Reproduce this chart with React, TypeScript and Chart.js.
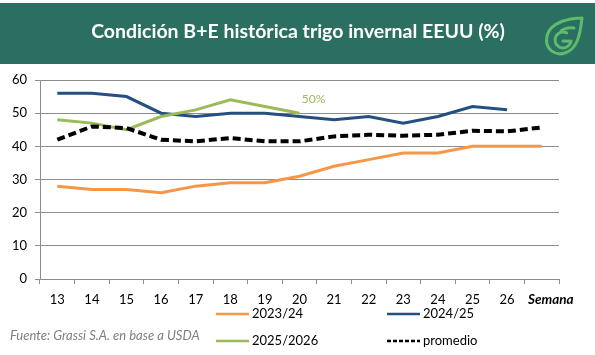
import React, { useEffect, useRef } from "react";
import { Chart, registerables } from "chart.js";

Chart.register(...registerables);

const weeks = ["13", "14", "15", "16", "17", "18", "19", "20", "21", "22", "23", "24", "25", "26", ""];
const s2023 = [28, 27, 27, 26, 28, 29, 29, 31, 34, 36, 38, 38, 40, 40, 40];
const s2024 = [56, 56, 55, 50, 49, 50, 50, 49, 48, 49, 47, 49, 52, 51, null];
const s2025 = [48, 47, 45, 49, 51, 54, 52, 50, null, null, null, null, null, null, null];
const promedio = [42, 46, 45.5, 42, 41.5, 42.5, 41.5, 41.5, 43, 43.5, 43.2, 43.5, 44.7, 44.5, 45.7];
const yTicks = [0, 10, 20, 30, 40, 50, 60];

const TITLE = "Condición B+E histórica trigo invernal EEUU (%)";
const SOURCE = "Fuente: Grassi S.A. en base a USDA";
const XTITLE = "Semana";
const LAST_LABEL = "50%";

const FONT = "Lato, 'Open Sans', sans-serif";

const decorPlugin = {
  id: "decor",
  beforeDraw(chart: any) {
    const ctx = chart.ctx;
    ctx.save();
    ctx.fillStyle = "#fff";
    ctx.fillRect(0, 0, chart.width, chart.height);
    // header band
    ctx.fillStyle = "#2B6E62";
    ctx.fillRect(0, 3, chart.width, 61);
    ctx.fillStyle = "#fff";
    ctx.font = `bold 19.5px ${FONT}`;
    ctx.textAlign = "center";
    ctx.textBaseline = "middle";
    ctx.fillText(TITLE, 298, 32);
    // logo
    ctx.strokeStyle = "#5DBB6B";
    ctx.lineWidth = 3;
    ctx.lineCap = "round";
    ctx.beginPath();
    ctx.moveTo(582, 18);
    ctx.bezierCurveTo(570, 18, 550, 22, 547, 36);
    ctx.bezierCurveTo(544, 50, 556, 56, 565, 53);
    ctx.bezierCurveTo(577, 49, 580, 36, 582, 18);
    ctx.stroke();
    ctx.beginPath();
    ctx.arc(563, 40, 8, -Math.PI * 0.35, Math.PI * 0.05, true);
    ctx.lineTo(563, 41);
    ctx.stroke();
    ctx.beginPath();
    ctx.moveTo(574, 28);
    ctx.quadraticCurveTo(566, 27, 561, 31);
    ctx.stroke();
    ctx.restore();
  },
  afterDraw(chart: any) {
    const ctx = chart.ctx;
    const xs = chart.scales.x;
    const ys = chart.scales.y;
    ctx.save();
    // "Semana"
    ctx.fillStyle = "#000";
    ctx.font = `italic bold 13.5px ${FONT}`;
    ctx.textAlign = "left";
    ctx.textBaseline = "middle";
    ctx.fillText(XTITLE, 528, 300);
    // 50% label at last green point
    let li = 0;
    s2025.forEach((v, i) => { if (v !== null) li = i; });
    const px = xs.getPixelForValue(li);
    const py = ys.getPixelForValue(s2025[li] as number);
    ctx.fillStyle = "#9BBB59";
    ctx.font = `12px ${FONT}`;
    ctx.textAlign = "center";
    ctx.fillText(LAST_LABEL, px + 14, py - 14);
    // source
    ctx.fillStyle = "#7F7F7F";
    ctx.font = `italic 13px ${FONT}`;
    ctx.textAlign = "left";
    ctx.fillText(SOURCE, 10, 336);
    // legend
    const pos = [
      [216, 314],
      [387, 314],
      [216, 341],
      [387, 341],
    ];
    chart.data.datasets.forEach((ds: any, i: number) => {
      const [x, y] = pos[i];
      ctx.strokeStyle = ds.borderColor;
      ctx.lineWidth = 2.5;
      ctx.setLineDash(ds.borderDash && ds.borderDash.length ? [4, 2] : []);
      ctx.beginPath();
      ctx.moveTo(x, y);
      ctx.lineTo(x + 33, y);
      ctx.stroke();
      ctx.setLineDash([]);
      ctx.fillStyle = "#000";
      ctx.font = `13px ${FONT}`;
      ctx.textAlign = "left";
      ctx.fillText(ds.label, x + 36, y);
    });
    ctx.restore();
  },
};

export default function App() {
  const ref = useRef<HTMLCanvasElement | null>(null);
  useEffect(() => {
    if (!ref.current) return;
    const chart = new Chart(ref.current, {
      type: "line",
      data: {
        labels: weeks,
        datasets: [
          { label: "2023/24", data: s2023, borderColor: "#F79646", backgroundColor: "#F79646", borderWidth: 3, order: 3 },
          { label: "2024/25", data: s2024, borderColor: "#254F80", backgroundColor: "#254F80", borderWidth: 3, order: 2 },
          { label: "2025/2026", data: s2025, borderColor: "#9BBB59", backgroundColor: "#9BBB59", borderWidth: 3, order: 1 },
          { label: "promedio", data: promedio, borderColor: "#000", backgroundColor: "#000", borderWidth: 4, borderDash: [8, 4], order: 0 },
        ] as any,
      },
      options: {
        responsive: false,
        animation: false,
        layout: { padding: { top: 80, right: 36, left: 0, bottom: 0 } },
        elements: { point: { radius: 0, hoverRadius: 0 }, line: { tension: 0 } },
        plugins: { legend: { display: false }, tooltip: { enabled: false } },
        scales: {
          x: {
            offset: true,
            grid: { display: true, drawOnChartArea: false, tickLength: 5, color: "#8C8C8C", offset: true },
            border: { color: "#8C8C8C" },
            ticks: { color: "#000", font: { family: FONT, size: 13 }, padding: 8, maxRotation: 0, autoSkip: false },
            afterFit: (s: any) => { s.height = 76; },
          },
          y: {
            min: 0,
            max: 60,
            afterBuildTicks: (s: any) => { s.ticks = yTicks.map((v) => ({ value: v })); },
            grid: { color: "#8C8C8C", tickLength: 5 },
            border: { color: "#8C8C8C" },
            ticks: { color: "#000", font: { family: FONT, size: 13 }, padding: 8 },
            afterFit: (s: any) => { s.width = 40; },
          },
        },
      },
      plugins: [decorPlugin],
    });
    return () => chart.destroy();
  }, []);
  return (
    <div style={{ position: "absolute", left: 0, top: 0, width: 595, height: 355 }}>
      <canvas ref={ref} width={595} height={355} style={{ width: 595, height: 355, display: "block" }} />
    </div>
  );
}
